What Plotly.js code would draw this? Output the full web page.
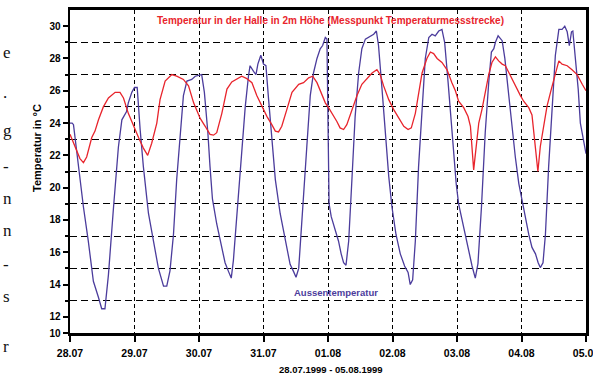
<!DOCTYPE html>
<html>
<head>
<meta charset="utf-8">
<script src="https://cdn.plot.ly/plotly-3.0.1.min.js"></script>
<style>
html,body{margin:0;padding:0;background:#fff;}
#chart{width:593px;height:379px;}
</style>
</head>
<body>
<div id="chart"></div>
<script>
// Day labels (x ticks)
var dayLabels = ["28.07","29.07","30.07","31.07","01.08","02.08","03.08","04.08","05.08"];
var dayHours = [0,24,48,72,96,120,144,168,192];

// Y tick labels (the original axis labels its bottom edge "10")
var yTickVals = [11,12,14,16,18,20,22,24,26,28,30];
var yTickText = ["10","12","14","16","18","20","22","24","26","28","30"];
var yGridVals = [13,15,17,19,21,23,25,27,29];

// Aussentemperatur (hours since 28.07 00:00, °C)
var hoursOut = [0,0.8,1.3,3.1,5.0,6.8,8.7,10.6,11.8,13.0,14.3,16.2,18.0,19.3,20.5,21.0,21.7,23.0,24.0,25.0,
26.1,27.3,29.2,31.0,32.9,34.8,36.0,37.2,38.5,39.7,41.0,42.2,43.5,45.3,46.6,48.4,49.0,
50.0,51.3,52.1,53.0,54.6,56.5,57.7,59.0,60.0,60.8,62.1,63.9,65.2,66.4,67.0,68.3,69.2,69.9,71.0,72.0,72.9,
73.9,75.1,76.4,78.2,80.1,81.9,83.2,84.1,85.1,86.3,88.1,89.4,90.6,91.9,93.1,94.0,95.0,95.6,
96.4,97.2,98.7,99.9,100.9,101.8,102.7,103.7,104.9,106.1,107.4,108.6,109.9,111.7,113.0,114.0,114.8,
116.1,117.3,118.6,119.8,121.3,122.9,124.5,125.8,126.6,127.5,128.5,129.7,131.0,132.2,133.5,134.7,135.9,137.2,138.4,139.4,
140.7,142.1,142.8,143.7,144.6,145.9,147.1,148.4,149.6,150.8,151.8,153.1,154.5,155.8,156.8,157.7,158.3,159.3,160.8,
161.8,163.0,164.2,165.7,167.0,168.2,169.4,170.7,171.9,173.2,174.2,175.0,176.0,176.9,178.1,179.4,180.6,181.9,183.1,184.1,
185.0,185.8,186.6,187.1,188.1,189.1,189.9,190.9,192.0];
var tempOut = [24.0,24.0,23.9,21.3,18.8,16.7,14.2,13.2,12.5,12.5,14.6,18.8,22.5,24.2,24.6,24.7,25.25,25.9,26.2,26.2,
23.6,21.3,18.4,16.7,15.0,13.9,13.9,14.85,17.1,20.5,23.4,25.7,26.6,26.7,26.9,27.0,27.0,
25.9,23.4,21.3,19.3,17.75,16.3,15.35,14.8,14.4,15.5,18.2,22.3,25.0,26.9,27.55,27.2,27.0,27.65,28.2,27.65,27.55,
25.45,23.0,20.5,18.4,16.7,15.25,14.8,14.45,15.0,17.75,22.5,25.7,27.1,28.0,28.6,28.8,29.3,29.2,
19.0,18.2,17.3,16.7,15.9,15.35,15.2,16.7,20.5,24.4,27.1,28.6,29.2,29.4,29.5,29.7,28.8,
26.1,23.2,20.7,18.8,17.1,15.9,15.15,14.75,14.0,14.3,16.7,21.3,25.0,28.0,29.3,29.5,29.4,29.7,29.8,29.0,
26.5,23.4,21.7,20.25,19.0,18.0,16.9,15.9,15.15,14.4,15.3,18.8,23.4,26.5,28.4,28.6,29.0,29.4,29.1,
28.0,26.1,24.4,21.9,20.25,19.2,18.4,17.1,16.3,15.9,15.35,15.05,15.35,17.1,21.3,25.0,28.2,29.8,29.8,30.0,
29.65,28.8,29.65,29.7,28.0,26.1,24.0,23.2,22.1];

// Temperatur in der Halle in 2m Höhe (hours since 28.07 00:00, °C)
var hoursHall = [0,1.9,3.7,5.0,6.2,8.1,9.3,10.6,12.4,14.3,16.8,18.6,19.9,21.7,23.6,25.5,27.3,28.9,30.4,32.3,33.5,35.4,
37.9,39.7,42.2,44.1,46.0,48.4,50.3,52.1,53.4,54.6,56.5,58.4,60.2,62.1,63.9,65.8,67.7,69.5,71.4,73.3,75.1,76.4,77.6,
78.8,80.7,82.6,85.1,86.9,88.8,90.3,91.9,93.7,95.0,96.2,97.5,99.3,100.5,101.8,103.0,104.9,106.8,108.6,110.5,112.4,
114.2,115.4,116.7,118.6,120.4,122.3,124.2,125.8,127.0,128.5,129.7,131.0,132.8,134.1,135.3,136.6,138.4,140.3,142.1,
143.4,144.6,146.5,148.1,149.0,150.2,151.1,152.1,153.3,154.5,155.8,157.0,158.3,159.5,160.8,162.0,163.3,164.5,166.4,
167.6,168.8,170.7,171.9,173.2,174.1,175.0,176.3,177.5,179.1,180.6,181.9,183.1,185.0,186.8,188.7,190.6,192.0];
var tempHall = [23.3,22.55,21.8,21.55,21.9,23.1,23.5,24.2,25.0,25.55,25.9,25.9,25.55,24.6,23.8,23.1,22.45,22.0,22.75,24.0,25.45,26.6,
27.0,26.9,26.7,26.3,25.25,24.3,23.8,23.3,23.25,23.4,24.6,26.1,26.55,26.75,26.9,26.75,26.5,25.7,25.0,24.4,23.9,23.5,23.45,
23.8,24.85,25.9,26.4,26.5,26.8,26.9,26.5,25.8,25.25,24.95,24.6,24.1,23.7,23.6,23.9,24.85,25.7,26.4,26.75,27.1,
27.3,27.0,26.3,25.45,24.85,24.3,23.8,23.6,23.7,24.6,25.9,27.1,28.0,28.4,28.3,28.0,27.75,27.3,26.5,
26.0,25.35,24.95,24.4,23.8,21.1,22.55,24.0,24.85,25.9,27.0,27.75,28.1,27.85,27.65,27.55,27.1,26.75,26.1,
25.7,25.35,24.95,24.5,22.55,21.0,22.55,24.0,25.05,26.1,27.1,27.85,27.65,27.55,27.3,27.0,26.4,26.0];

var RED = "#e8242c";
var BLUE = "#4b3c9c";
var FONT = "Liberation Sans, Arial, sans-serif";

var traces = [
  {x: hoursOut, y: tempOut, type: "scatter", mode: "lines",
   line: {color: BLUE, width: 1.3}, name: "Aussentemperatur", hoverinfo: "skip"},
  {x: hoursHall, y: tempHall, type: "scatter", mode: "lines",
   line: {color: RED, width: 1.3}, name: "Halle", hoverinfo: "skip"}
];

// plot-area helpers for paper coordinates of text positions
var L = 70, T = 10, PW = 516, PH = 323;
function px2paperX(px){ return (px - L) / PW; }
function px2paperY(py){ return (T + PH - py) / PH; }

var sideLetters = ["e",".","g","-","n","n","-","s","r"];
var sideY = [53,92,130,166,198,230,264,296,346];

function ann(text, px, py, font, extra){
  var a = {text: text, xref: "paper", yref: "paper", x: px2paperX(px), y: px2paperY(py),
           xanchor: "center", yanchor: "middle", showarrow: false, font: font};
  if (extra) for (var k in extra) a[k] = extra[k];
  return a;
}

var annotations = [
  ann("Temperatur in der Halle in 2m Höhe (Messpunkt Temperaturmessstrecke)", 330, 21,
      {family: FONT, size: 10, color: RED, weight: "bold"}),
  ann("Aussentemperatur", 336, 292, {family: FONT, size: 9.5, color: BLUE, weight: "bold"}),
  ann("Temperatur in °C", 37, 148, {family: FONT, size: 11, color: "#000", weight: "bold"}, {textangle: -90}),
  ann("28.07.1999 - 05.08.1999", 331, 369, {family: FONT, size: 9.5, color: "#000", weight: "bold"})
];
for (var i = 0; i < sideLetters.length; i++) {
  annotations.push(ann(sideLetters[i], 1, sideY[i],
    {family: "Liberation Serif, Times New Roman, serif", size: 17, color: "#111"}, {xanchor: "left"}));
}

var layout = {
  width: 593, height: 379,
  margin: {l: L, r: 593 - L - PW, t: T, b: 379 - T - PH, pad: 0},
  paper_bgcolor: "#fff", plot_bgcolor: "#fff",
  showlegend: false,
  font: {family: FONT, color: "#000"},
  xaxis: {
    range: [0, 192], tickmode: "array", tickvals: dayHours, ticktext: dayLabels,
    showgrid: true, gridcolor: "#000", gridwidth: 1, griddash: "4px,3px",
    showline: true, linecolor: "#000", linewidth: 3, mirror: true,
    ticks: "outside", ticklen: 6, tickwidth: 2, tickcolor: "#000",
    ticklabelstandoff: 2, ticklabeloverflow: "allow",
    tickfont: {family: FONT, size: 10.5, color: "#000", weight: "bold"},
    zeroline: false, fixedrange: true
  },
  yaxis: {
    range: [11, 31], tickmode: "array", tickvals: yTickVals, ticktext: yTickText,
    showgrid: false,
    minor: {tickmode: "array", tickvals: yGridVals, showgrid: true, gridcolor: "#000",
            gridwidth: 1, griddash: "7px,4px", ticks: "outside", ticklen: 3, tickcolor: "#000"},
    showline: true, linecolor: "#000", linewidth: 2.5, mirror: true,
    ticks: "outside", ticklen: 5, tickwidth: 2, tickcolor: "#000",
    tickfont: {family: FONT, size: 10, color: "#000", weight: "bold"},
    zeroline: false, fixedrange: true
  },
  annotations: annotations
};

Plotly.newPlot("chart", traces, layout, {staticPlot: true, displayModeBar: false});
</script>
</body>
</html>
